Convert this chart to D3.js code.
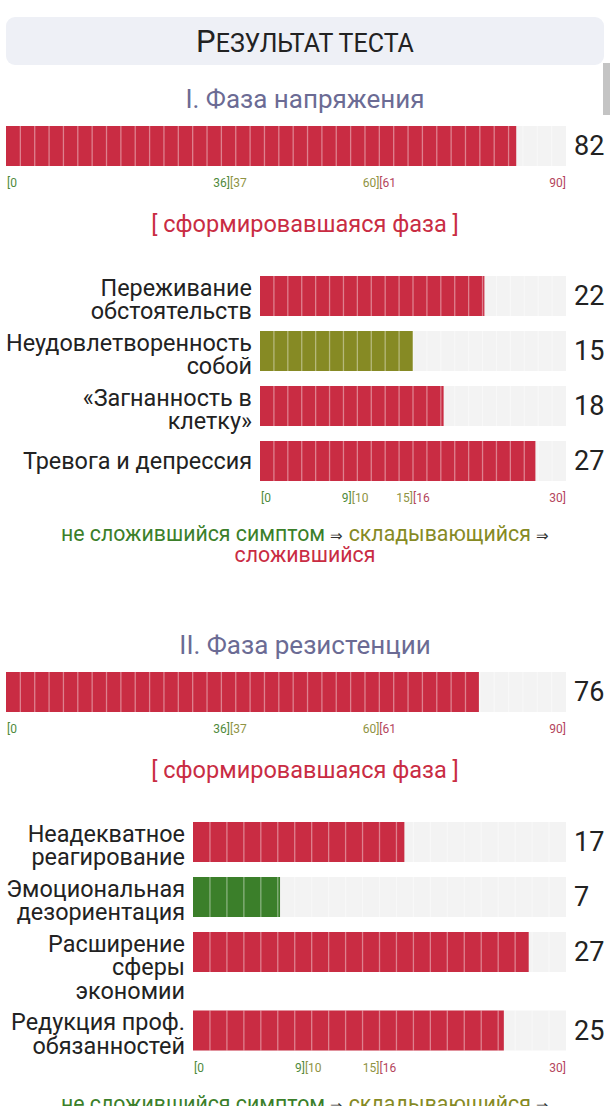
<!DOCTYPE html>
<html>
<head>
<meta charset="utf-8">
<script src="https://cdn.jsdelivr.net/npm/d3@7"></script>
<style>
  body { margin: 0; background: #fff; }
  svg text { font-family: Roboto, "Noto Sans", sans-serif; }
</style>
</head>
<body>
<svg id="chart"></svg>
<script>
// ---- data ----
const phaseTitles = ["I. Фаза напряжения", "II. Фаза резистенции"];
const phaseScores = [82, 76];
const phaseVerdicts = ["[ сформировавшаяся фаза ]", "[ сформировавшаяся фаза ]"];
const phaseMax = 90;
const phaseBreaks = [36, 60];

const symptomLabels1 = [["Переживание", "обстоятельств"], ["Неудовлетворенность", "собой"], ["«Загнанность в", "клетку»"], ["Тревога и депрессия"]];
const symptomValues1 = [22, 15, 18, 27];
const symptomLabels2 = [["Неадекватное", "реагирование"], ["Эмоциональная", "дезориентация"], ["Расширение", "сферы", "экономии"], ["Редукция проф.", "обязанностей"]];
const symptomValues2 = [17, 7, 27, 25];
const symptomMax = 30;
const symptomBreaks = [9, 15];

const legendParts = ["не сложившийся симптом", "складывающийся", "сложившийся"];

// ---- layout ----
const W = 610, H = 1106;
const colors = { green: "#3b7f2a", olive: "#868a24", red: "#c92c43" };
const tickColors = { green: "#4f8a3c", olive: "#8f9343", red: "#b4455c" };
const grey = "#f3f3f3";
const barH = 40, lineH = 23.5, labelSize = 23.4;

const svg = d3.select("#chart").attr("width", W).attr("height", H);

// header
svg.append("rect").attr("x", 6).attr("y", 17).attr("width", 598).attr("height", 48)
  .attr("rx", 9).attr("fill", "#eef0f6");
const head = svg.append("text").attr("x", 305).attr("y", 52).attr("text-anchor", "middle")
  .attr("fill", "#222");
head.append("tspan").attr("font-size", 31).text("Р");
head.append("tspan").attr("font-size", 25).text("ЕЗУЛЬТАТ ТЕСТА");

// scrollbar thumb
svg.append("rect").attr("x", 603).attr("y", 63).attr("width", 7).attr("height", 52).attr("fill", "#c4c4c4");

function level(v, breaks) {
  return v <= breaks[0] ? "green" : v <= breaks[1] ? "olive" : "red";
}

function segmentedBar(g, x, y, value, segments) {
  const x0 = x.range()[0], x1 = x.range()[1];
  g.append("rect").attr("x", x0).attr("y", y).attr("width", x1 - x0).attr("height", barH).attr("fill", grey);
  g.append("rect").attr("x", x0).attr("y", y).attr("width", x(value) - x0).attr("height", barH)
    .attr("fill", colors[level(value, x.breaks)]);
  const step = (x1 - x0) / segments;
  g.selectAll(null).data(d3.range(1, segments)).enter().append("line")
    .attr("x1", d => x0 + d * step).attr("x2", d => x0 + d * step)
    .attr("y1", y).attr("y2", y + barH)
    .attr("stroke", "rgba(255,255,255,0.4)").attr("stroke-width", 1.3);
}

function rangeTicks(g, x, y) {
  const [b1, b2] = x.breaks;
  const max = x.domain()[1];
  const ticks = [
    { v: 0, t: "[0", a: "start", c: "green" },
    { v: b1, t: b1 + "]", a: "end", c: "green" },
    { v: b1, t: "[" + (b1 + 1), a: "start", c: "olive" },
    { v: b2, t: b2 + "]", a: "end", c: "olive" },
    { v: b2, t: "[" + (b2 + 1), a: "start", c: "red" },
    { v: max, t: max + "]", a: "end", c: "red" }
  ];
  g.selectAll(null).data(ticks).enter().append("text")
    .attr("x", d => x(d.v) + (d.v === 0 ? 1 : 0)).attr("y", y)
    .attr("text-anchor", d => d.a).attr("font-size", 12)
    .attr("fill", d => tickColors[d.c]).text(d => d.t);
}

function drawPhase(top, idx, labels, values) {
  const g = svg.append("g");
  g.append("text").attr("x", 305).attr("y", top).attr("text-anchor", "middle")
    .attr("font-size", 26).attr("fill", "#6b6b94").text(phaseTitles[idx]);

  const xp = d3.scaleLinear().domain([0, phaseMax]).range([6, 566]);
  xp.breaks = phaseBreaks;
  segmentedBar(g, xp, top + 18, phaseScores[idx], 39);
  g.append("text").attr("x", 574).attr("y", top + 47).attr("font-size", 27).attr("fill", "#222")
    .text(phaseScores[idx]);
  rangeTicks(g, xp, top + 79);

  g.append("text").attr("x", 305).attr("y", top + 124).attr("text-anchor", "middle")
    .attr("font-size", 23.5).attr("fill", colors.red).text(phaseVerdicts[idx]);

  // symptom label column: width from the longest line
  const probe = g.append("g");
  let maxW = 0;
  labels.flat().forEach(s => {
    const t = probe.append("text").attr("font-size", labelSize).text(s);
    maxW = Math.max(maxW, t.node().getComputedTextLength());
  });
  probe.remove();
  const left = Math.round(6 + maxW + 8);
  const xs = d3.scaleLinear().domain([0, symptomMax]).range([left, 566]);
  xs.breaks = symptomBreaks;

  let y = top + 168;
  values.forEach((v, i) => {
    const lines = labels[i];
    segmentedBar(g, xs, y, v, 22);
    const first = lines.length === 1 ? y + barH / 2 + 8 : y + 19.5;
    const lab = g.append("text").attr("x", left - 8).attr("text-anchor", "end")
      .attr("font-size", labelSize).attr("fill", "#222");
    lines.forEach((s, k) => lab.append("tspan").attr("x", left - 8).attr("y", first + k * lineH).text(s));
    g.append("text").attr("x", 574).attr("y", y + barH / 2 + 9).attr("font-size", 27).attr("fill", "#222").text(v);
    if (i < values.length - 1) y += Math.max(barH, lines.length * lineH) + 8;
  });
  y += barH;
  rangeTicks(g, xs, y + 21);

  const leg = g.append("text").attr("x", 305).attr("y", y + 60).attr("text-anchor", "middle").attr("font-size", 21.3);
  leg.append("tspan").attr("fill", colors.green).text(legendParts[0] + " ");
  leg.append("tspan").attr("fill", "#333").attr("font-size", 15).text("⇒");
  leg.append("tspan").attr("fill", colors.olive).text(" " + legendParts[1] + " ");
  leg.append("tspan").attr("fill", "#333").attr("font-size", 15).text("⇒");
  g.append("text").attr("x", 305).attr("y", y + 81).attr("text-anchor", "middle").attr("font-size", 21.3)
    .attr("fill", colors.red).text(legendParts[2]);
}

drawPhase(108, 0, symptomLabels1, symptomValues1);
drawPhase(654, 1, symptomLabels2, symptomValues2);
</script>
</body>
</html>
